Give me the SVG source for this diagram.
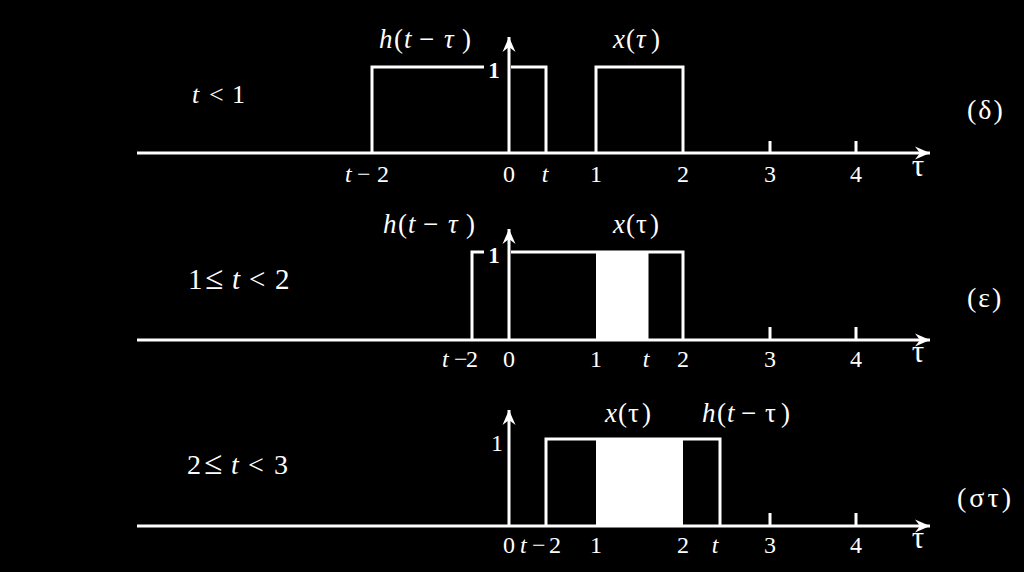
<svg xmlns="http://www.w3.org/2000/svg" width="1024" height="572" viewBox="0 0 1024 572" font-family="'Liberation Serif', serif">
<style>
.ln{stroke:#fff;stroke-width:3;fill:none;stroke-linecap:butt}
.ax{stroke:#fff;stroke-width:3;fill:none}
text{font-family:'Liberation Serif',serif;fill:#fff}
.lab{font-size:24px;text-anchor:middle}
.tau{font-size:31px;text-anchor:middle}
.big{font-size:27px}
.i{font-style:italic}
.par{font-size:28px;letter-spacing:2px}
.le{font-size:33px}
</style>
<defs>
<marker id="ar" viewBox="-16 -7 18 14" refX="0" refY="0" markerWidth="18" markerHeight="14" markerUnits="userSpaceOnUse" orient="auto">
<path d="M0,0 L-15,-6.5 L-10,0 L-15,6.5 Z" fill="#fff"/>
</marker>
</defs>
<rect width="1024" height="572" fill="#000"/>

<g id="panel1">
<line class="ax" x1="137" y1="153" x2="930" y2="153" marker-end="url(#ar)"/>
<line class="ax" x1="509" y1="153" x2="509" y2="37" marker-end="url(#ar)"/>
<line class="ln" x1="770" y1="153" x2="770" y2="141"/>
<line class="ln" x1="856" y1="153" x2="856" y2="141"/>
<path class="ln" d="M372,153 V67 H484 M511,67 H546 V153"/>
<path class="ln" d="M596,153 V67 H683 V153"/>
<text font-size="26" y="103"><tspan class="i" x="192">t</tspan><tspan x="209">&lt;</tspan><tspan x="232">1</tspan></text>
<text class="big" y="48"><tspan class="i" x="379">h</tspan><tspan x="394">(</tspan><tspan class="i" x="404">t</tspan><tspan x="419">−</tspan><tspan class="i" x="444">τ</tspan><tspan x="462">)</tspan></text>
<text class="big" y="48"><tspan class="i" x="613">x</tspan><tspan x="626">(</tspan><tspan class="i" x="636">τ</tspan><tspan x="651">)</tspan></text>
<text x="494" y="78" font-size="23" font-weight="bold" text-anchor="middle">1</text>
<text font-size="24" y="182"><tspan class="i" x="345">t</tspan><tspan x="357">−</tspan><tspan x="377">2</tspan></text>
<text class="lab" x="509" y="182">0</text>
<text class="lab i" x="545" y="182">t</text>
<text class="lab" x="596" y="182">1</text>
<text class="lab" x="683" y="182">2</text>
<text class="lab" x="770" y="182">3</text>
<text class="lab" x="856" y="182">4</text>
<text class="tau" x="918" y="176">τ</text>
<text class="par" x="967" y="119">(δ)</text>
</g>

<g id="panel2">
<rect x="596" y="252" width="51" height="88" fill="#fff"/>
<line class="ax" x1="137" y1="340" x2="930" y2="340" marker-end="url(#ar)"/>
<line class="ax" x1="509" y1="340" x2="509" y2="229" marker-end="url(#ar)"/>
<line class="ln" x1="770" y1="340" x2="770" y2="327"/>
<line class="ln" x1="856" y1="340" x2="856" y2="327"/>
<path class="ln" d="M472,340 V252 H484 M511,252 H683 V340"/>
<line class="ln" x1="647" y1="252" x2="647" y2="340"/>
<text font-size="29" y="289"><tspan x="188">1</tspan><tspan class="le" x="205">≤</tspan><tspan class="i" x="232">t</tspan><tspan x="249">&lt;</tspan><tspan x="275">2</tspan></text>
<text class="big" y="233"><tspan class="i" x="383">h</tspan><tspan x="398">(</tspan><tspan class="i" x="408">t</tspan><tspan x="423">−</tspan><tspan class="i" x="448">τ</tspan><tspan x="466">)</tspan></text>
<text class="big" y="233"><tspan class="i" x="613">x</tspan><tspan x="626">(</tspan><tspan x="636">τ</tspan><tspan x="650">)</tspan></text>
<text x="494" y="263" font-size="23" font-weight="bold" text-anchor="middle">1</text>
<text font-size="24" y="367"><tspan class="i" x="442">t</tspan><tspan x="454">−</tspan><tspan x="466">2</tspan></text>
<text class="lab" x="509" y="367">0</text>
<text class="lab" x="596" y="367">1</text>
<text class="lab i" x="646" y="367">t</text>
<text class="lab" x="683" y="367">2</text>
<text class="lab" x="770" y="367">3</text>
<text class="lab" x="856" y="367">4</text>
<text class="tau" x="918" y="362">τ</text>
<text class="par" x="967" y="307">(ε)</text>
</g>

<g id="panel3">
<rect x="596" y="439" width="87" height="87" fill="#fff"/>
<line class="ax" x1="137" y1="526" x2="930" y2="526" marker-end="url(#ar)"/>
<line class="ax" x1="509" y1="526" x2="509" y2="410" marker-end="url(#ar)"/>
<line class="ln" x1="770" y1="526" x2="770" y2="513"/>
<line class="ln" x1="856" y1="526" x2="856" y2="513"/>
<path class="ln" d="M546,526 V439 H720 V526"/>
<text font-size="28" y="474"><tspan x="187">2</tspan><tspan class="le" x="204">≤</tspan><tspan class="i" x="231">t</tspan><tspan x="248">&lt;</tspan><tspan x="274">3</tspan></text>
<text class="big" y="422"><tspan class="i" x="605">x</tspan><tspan x="618">(</tspan><tspan x="628">τ</tspan><tspan x="642">)</tspan></text>
<text class="big" y="422"><tspan class="i" x="702">h</tspan><tspan x="717">(</tspan><tspan class="i" x="727">t</tspan><tspan x="741">−</tspan><tspan x="765">τ</tspan><tspan x="781">)</tspan></text>
<text x="497" y="451" font-size="24" text-anchor="middle">1</text>
<text font-size="24" y="553"><tspan x="503">0</tspan><tspan class="i" x="520">t</tspan><tspan x="532">−</tspan><tspan x="549">2</tspan></text>
<text class="lab" x="596" y="553">1</text>
<text class="lab" x="683" y="553">2</text>
<text class="lab i" x="715" y="553">t</text>
<text class="lab" x="770" y="553">3</text>
<text class="lab" x="856" y="553">4</text>
<text class="tau" x="918" y="548">τ</text>
<text class="par" x="957" y="507" style="letter-spacing:3px">(στ)</text>
</g>
</svg>
